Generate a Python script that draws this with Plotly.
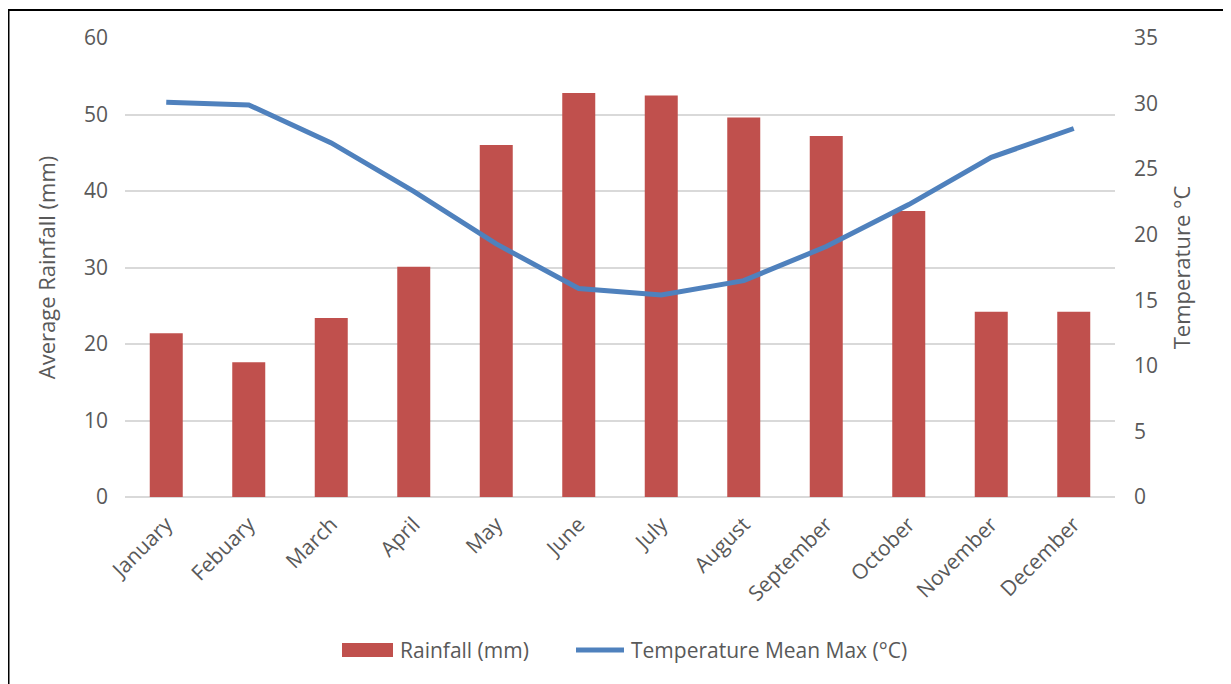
import plotly.graph_objects as go

months = ["January", "Febuary", "March", "April", "May", "June", "July",
          "August", "September", "October", "November", "December"]
rainfall = [21.4, 17.6, 23.4, 30.1, 46.0, 52.8, 52.5, 49.6, 47.2, 37.4, 24.2, 24.2]
temperature = [30.1, 29.9, 27.0, 23.3, 19.3, 15.9, 15.4, 16.5, 19.1, 22.3, 25.9, 28.1]

rain_name = "Rainfall (mm)"
temp_name = "Temperature Mean Max (°C)"

font_family = "Open Sans, Liberation Sans, sans-serif"
grey = "#595959"
red = "#C0504D"
blue = "#4F81BD"

# page offset of the figure (browser body margin) is 8px; plot area in page px
PX0, PX1, PY0, PY1 = 125, 1115, 38, 497


def px(x):
    return (x - PX0) / (PX1 - PX0)


def py(y):
    return (PY1 - y) / (PY1 - PY0)


fig = go.Figure()
fig.add_trace(go.Bar(x=months, y=rainfall, name=rain_name,
                     marker=dict(color=red, line=dict(width=0)),
                     width=0.4, yaxis="y"))
fig.add_trace(go.Scatter(x=months, y=temperature, name=temp_name,
                         mode="lines", line=dict(color=blue, width=5),
                         yaxis="y2"))

fig.update_layout(
    width=1223, height=676,
    margin=dict(l=117, r=116, t=30, b=187),
    paper_bgcolor="white", plot_bgcolor="white",
    font=dict(family=font_family, size=21, color=grey),
    showlegend=False,
    xaxis=dict(tickangle=-45, showgrid=False, showline=False, ticks="",
               tickfont=dict(size=21, color=grey), ticklabelstandoff=10),
    yaxis=dict(range=[0, 60], dtick=10, showgrid=True, gridcolor="#D9D9D9", gridwidth=1.5,
               zeroline=True, zerolinecolor="#D9D9D9", zerolinewidth=1.5,
               title=dict(text="Average Rainfall (mm)", font=dict(size=22, color=grey), standoff=22),
               tickfont=dict(size=21, color=grey), ticks="", ticklabelstandoff=16),
    yaxis2=dict(range=[0, 35], dtick=5, overlaying="y", side="right", showgrid=False,
                zeroline=False,
                title=dict(text="Temperature °C", font=dict(size=22, color=grey), standoff=17),
                tickfont=dict(size=21, color=grey), ticks="", ticklabelstandoff=18),
)

# outer frame
fig.add_shape(type="rect", xref="paper", yref="paper",
              x0=px(8.5), x1=px(1300), y0=py(760), y1=py(10),
              line=dict(color="black", width=2), fillcolor="rgba(0,0,0,0)", layer="below")

# legend
fig.add_shape(type="rect", xref="paper", yref="paper",
              x0=px(342), x1=px(393), y0=py(657), y1=py(643),
              line=dict(width=0), fillcolor=red)
fig.add_shape(type="line", xref="paper", yref="paper",
              x0=px(576), x1=px(624), y0=py(650), y1=py(650),
              line=dict(color=blue, width=5))
fig.add_annotation(text=rain_name, xref="paper", yref="paper", x=px(398), y=py(650),
                   xanchor="left", yanchor="middle", showarrow=False,
                   font=dict(size=21, color=grey))
fig.add_annotation(text=temp_name, xref="paper", yref="paper", x=px(629), y=py(650),
                   xanchor="left", yanchor="middle", showarrow=False,
                   font=dict(size=21, color=grey))

fig.write_html("out.html")
